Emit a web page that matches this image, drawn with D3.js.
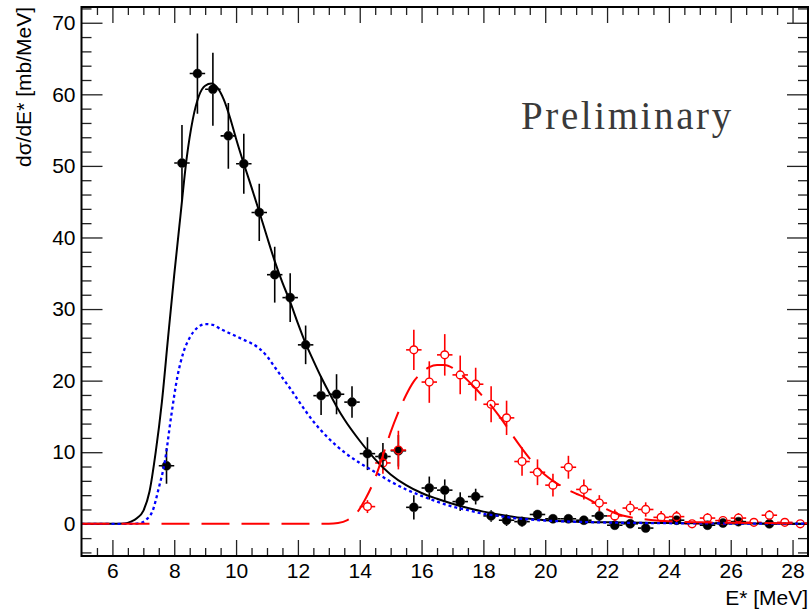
<!DOCTYPE html>
<html>
<head>
<meta charset="utf-8">
<script src="https://cdn.jsdelivr.net/npm/d3@7"></script>
<style>
  body { margin: 0; background: #fff; }
  svg text { font-family: "Liberation Sans", Arial, Helvetica, sans-serif; }
</style>
</head>
<body>
<svg id="chart" width="810" height="612"></svg>
<script>
// ---- measured cross sections: bin centres, values and errors ----
const binHalfWidth = 0.25;

// filled points (dσ/dE*, mb/MeV)
const filledE   = [7.75, 8.25, 8.75, 9.25, 9.75, 10.25, 10.75, 11.25, 11.75, 12.25, 12.75, 13.25, 13.75, 14.25, 14.75, 15.25,
                   15.75, 16.25, 16.75, 17.25, 17.75, 18.25, 18.75, 19.25, 19.75, 20.25, 20.75, 21.25, 21.75, 22.25, 22.75,
                   23.25, 24.25, 25.25, 25.75, 26.25, 27.25];
const filledVal = [8.1, 50.4, 62.9, 60.7, 54.2, 50.3, 43.5, 34.8, 31.6, 25.0, 17.9, 18.1, 17.0, 9.8, 9.4, 10.2,
                   2.3, 5.0, 4.7, 3.1, 3.8, 1.1, 0.5, 0.3, 1.3, 0.7, 0.7, 0.5, 1.1, -0.2, 0.0,
                   -0.6, 0.5, -0.2, 0.1, 0.3, 0.0];
const filledErr = [2.5, 5.3, 5.6, 5.1, 4.6, 4.2, 4.0, 3.9, 3.4, 2.7, 2.7, 2.8, 2.2, 2.3, 1.9, 2.2,
                   1.7, 1.6, 1.5, 1.3, 1.1, 0.8, 0.8, 0.7, 0.5, 0.5, 0.4, 0.4, 0.8, 0.5, 0.4,
                   0.4, 0.4, 0.4, 0.3, 0.4, 0.3];

// open points
const openE   = [14.25, 14.75, 15.25, 15.75, 16.25, 16.75, 17.25, 17.75, 18.25, 18.75, 19.25, 19.75, 20.25, 20.75, 21.25,
                 21.75, 22.25, 22.75, 23.25, 23.75, 24.25, 24.75, 25.25, 25.75, 26.25, 26.75, 27.25, 27.75, 28.25];
const openVal = [2.4, 8.5, 10.3, 24.3, 19.8, 23.6, 20.8, 19.5, 16.7, 14.8, 8.7, 7.2, 5.4, 7.9, 4.8,
                 2.9, 1.1, 2.2, 2.0, 0.9, 1.0, 0.0, 0.8, 0.45, 0.8, 0.2, 1.2, 0.2, 0.0];
const openErr = [0.9, 1.5, 2.7, 2.8, 2.9, 2.9, 2.7, 2.3, 2.5, 2.4, 2.0, 1.8, 1.6, 1.6, 1.4,
                 1.1, 0.9, 1.0, 1.0, 0.9, 0.8, 0.4, 0.7, 0.6, 0.7, 0.5, 0.7, 0.5, 0.4];

// ---- fitted curves, sampled ----
const totalE = [5.0, 6.0, 6.4, 6.6, 6.8, 7.0, 7.2, 7.4, 7.6, 7.8, 8.0, 8.2, 8.4, 8.6, 8.8, 9.0, 9.2, 9.4, 9.6, 9.8,
                10.0, 10.25, 10.5, 10.75, 11.0, 11.25, 11.5, 11.75, 12.0, 12.25, 12.5, 12.75, 13.0, 13.25, 13.5,
                14.0, 14.5, 15.0, 15.5, 16.0, 16.5, 17.0, 17.5, 18.0, 18.5, 19.0, 19.5, 20.0, 21.0, 22.0, 24.0, 26.0, 28.5];
const totalVal = [0, 0, 0.05, 0.3, 0.8, 1.8, 4.5, 10.0, 17.0, 26.0, 34.8, 43.0, 51.0, 56.5, 59.8, 61.2, 61.5, 60.9, 59.3, 56.8,
                  53.8, 50.3, 47.0, 43.6, 40.1, 36.7, 33.7, 31.0, 28.0, 25.2, 22.8, 20.5, 18.4, 16.4, 14.6,
                  11.6, 9.0, 6.9, 5.4, 4.3, 3.5, 2.8, 2.2, 1.7, 1.3, 0.95, 0.7, 0.5, 0.3, 0.2, 0.1, 0.05, 0.02];

const partE = [5.0, 6.6, 6.9, 7.1, 7.3, 7.5, 7.7, 7.9, 8.1, 8.3, 8.5, 8.75, 9.0, 9.25, 9.5, 9.75, 10.0, 10.25, 10.5,
               10.75, 11.0, 11.25, 11.5, 11.75, 12.0, 12.5, 13.0, 13.5, 14.0, 14.5, 15.0, 15.5, 16.0, 16.5, 17.0,
               17.5, 18.0, 18.5, 19.0, 19.5, 20.0, 21.0, 22.0, 24.0, 26.0, 28.5];
const partVal = [0, 0, 0.1, 0.6, 1.8, 5.0, 8.8, 15.0, 20.5, 24.0, 26.0, 27.4, 27.9, 27.8, 27.2, 26.7, 26.2, 25.7, 25.2,
                 24.5, 23.4, 21.9, 20.4, 18.9, 17.3, 14.3, 11.9, 10.0, 8.5, 7.2, 5.9, 4.8, 3.9, 3.1, 2.4,
                 1.9, 1.4, 1.1, 0.8, 0.6, 0.45, 0.28, 0.18, 0.08, 0.04, 0.02];

const highE = [5.0, 13.0, 13.3, 13.6, 13.9, 14.2, 14.5, 14.8, 15.0, 15.25, 15.5, 15.75, 16.0, 16.25, 16.5, 16.75, 17.0,
               17.25, 17.5, 17.75, 18.0, 18.25, 18.5, 18.75, 19.0, 19.25, 19.5, 19.75, 20.0, 20.25, 20.5, 20.75, 21.0,
               21.25, 21.5, 21.75, 22.0, 22.25, 22.5, 23.0, 23.5, 24.0, 25.0, 26.0, 27.0, 28.5];
const highVal = [0, 0, 0.1, 0.5, 1.5, 3.6, 6.4, 10.2, 12.8, 15.6, 18.0, 19.9, 21.1, 21.9, 22.2, 22.2, 21.8,
                 21.0, 20.0, 18.9, 17.7, 16.5, 15.1, 13.6, 12.0, 10.5, 9.1, 7.9, 6.8, 6.0, 5.3, 4.7, 4.2,
                 3.75, 3.2, 2.6, 2.0, 1.5, 1.15, 0.75, 0.5, 0.35, 0.2, 0.13, 0.1, 0.08];

// ---- axis ticks ----
const xMajor = [6, 8, 10, 12, 14, 16, 18, 20, 22, 24, 26, 28];
const xMinor = d3.range(5.5, 28.5, 0.5).filter(v => v % 2 !== 0);
const yMajor = [0, 10, 20, 30, 40, 50, 60, 70];
const yMinor = d3.range(-4, 73, 2).filter(v => v % 10 !== 0);

const xTitle = "E* [MeV]";
const yTitle = "dσ/dE* [mb/MeV]";
const stamp = "Preliminary";

// ---- layout ----
const svg = d3.select("#chart");
const frame = { left: 81.5, right: 808, top: 7, bottom: 556 };

const x = d3.scaleLinear().domain([5, 28.5]).range([frame.left, frame.right]);
const y = d3.scaleLinear().domain([-4.5, 72.2]).range([frame.bottom, frame.top]);

svg.append("defs").append("clipPath").attr("id", "plotArea")
  .append("rect")
  .attr("x", frame.left).attr("y", frame.top)
  .attr("width", frame.right - frame.left).attr("height", frame.bottom - frame.top);

// ---- axes (ticks point inwards on all four sides) ----
function styleAxis(g) {
  g.select(".domain").remove();
  g.selectAll(".tick line").attr("stroke", "#222").attr("stroke-width", 1.3);
  g.selectAll(".tick text").attr("fill", "#000").style("font-size", "21px");
}

svg.append("g").attr("transform", `translate(0,${frame.bottom})`)
  .call(d3.axisBottom(x).tickValues(xMajor).tickSizeInner(-16).tickSizeOuter(0).tickPadding(7).tickFormat(d3.format("d")))
  .call(styleAxis);
svg.append("g").attr("transform", `translate(0,${frame.bottom})`)
  .call(d3.axisBottom(x).tickValues(xMinor).tickSizeInner(-8).tickSizeOuter(0).tickFormat(""))
  .call(styleAxis);
svg.append("g").attr("transform", `translate(0,${frame.top})`)
  .call(d3.axisTop(x).tickValues(xMajor).tickSizeInner(-16).tickSizeOuter(0).tickFormat(""))
  .call(styleAxis);
svg.append("g").attr("transform", `translate(0,${frame.top})`)
  .call(d3.axisTop(x).tickValues(xMinor).tickSizeInner(-8).tickSizeOuter(0).tickFormat(""))
  .call(styleAxis);

svg.append("g").attr("transform", `translate(${frame.left},0)`)
  .call(d3.axisLeft(y).tickValues(yMajor).tickSizeInner(-21).tickSizeOuter(0).tickPadding(6).tickFormat(d3.format("d")))
  .call(styleAxis);
svg.append("g").attr("transform", `translate(${frame.left},0)`)
  .call(d3.axisLeft(y).tickValues(yMinor).tickSizeInner(-10).tickSizeOuter(0).tickFormat(""))
  .call(styleAxis);
svg.append("g").attr("transform", `translate(${frame.right},0)`)
  .call(d3.axisRight(y).tickValues(yMajor).tickSizeInner(-21).tickSizeOuter(0).tickFormat(""))
  .call(styleAxis);
svg.append("g").attr("transform", `translate(${frame.right},0)`)
  .call(d3.axisRight(y).tickValues(yMinor).tickSizeInner(-10).tickSizeOuter(0).tickFormat(""))
  .call(styleAxis);

// ---- data points with error bars ----
const plot = svg.append("g").attr("clip-path", "url(#plotArea)");

function drawPoints(es, vals, errs, color, radius, filled) {
  const pts = es.map((e, i) => ({ e, v: vals[i], err: errs[i] }));
  const g = plot.append("g");
  const segs = [];
  pts.forEach(p => {
    const cx = x(p.e), cy = y(p.v);
    const top = y(p.v + p.err), bot = y(p.v - p.err);
    const lft = x(p.e - binHalfWidth), rgt = x(p.e + binHalfWidth);
    if (cy - radius > top) segs.push([cx, top, cx, cy - radius]);
    if (bot > cy + radius) segs.push([cx, cy + radius, cx, bot]);
    segs.push([lft, cy, cx - radius, cy]);
    segs.push([cx + radius, cy, rgt, cy]);
  });
  g.selectAll("line").data(segs).join("line")
    .attr("x1", d => d[0]).attr("y1", d => d[1]).attr("x2", d => d[2]).attr("y2", d => d[3])
    .attr("stroke", color).attr("stroke-width", 1.6);
  g.selectAll("circle").data(pts).join("circle")
    .attr("cx", d => x(d.e)).attr("cy", d => y(d.v)).attr("r", radius)
    .attr("fill", filled ? color : "none")
    .attr("stroke", color).attr("stroke-width", filled ? 0.5 : 1.4);
}

drawPoints(filledE, filledVal, filledErr, "#000", 4.5, true);
drawPoints(openE, openVal, openErr, "#ff0000", 3.9, false);

// ---- fit curves ----
const line = d3.line().x(d => x(d[0])).y(d => y(d[1])).curve(d3.curveMonotoneX);

plot.append("path").datum(totalE.map((e, i) => [e, totalVal[i]]))
  .attr("d", line).attr("fill", "none").attr("stroke", "#000").attr("stroke-width", 2);
plot.append("path").datum(partE.map((e, i) => [e, partVal[i]]))
  .attr("d", line).attr("fill", "none").attr("stroke", "#0000ff").attr("stroke-width", 2.3)
  .attr("stroke-dasharray", "3,3");
plot.append("path").datum(highE.map((e, i) => [e, highVal[i]]))
  .attr("d", line).attr("fill", "none").attr("stroke", "#ff0000").attr("stroke-width", 2)
  .attr("stroke-dasharray", "28,12");

// ---- frame ----
svg.append("rect")
  .attr("x", frame.left).attr("y", frame.top)
  .attr("width", frame.right - frame.left).attr("height", frame.bottom - frame.top)
  .attr("fill", "none").attr("stroke", "#000").attr("stroke-width", 2);

// ---- titles ----
svg.append("text")
  .attr("x", frame.right).attr("y", 605)
  .attr("text-anchor", "end").style("font-size", "21px")
  .text(xTitle);

svg.append("text")
  .attr("transform", `translate(31,${frame.top}) rotate(-90)`)
  .attr("text-anchor", "end").style("font-size", "21px")
  .text(yTitle);

svg.append("text")
  .attr("x", 521).attr("y", 129)
  .style("font-family", "'Liberation Serif', 'Times New Roman', serif")
  .style("font-size", "39px").style("letter-spacing", "2.6px")
  .attr("fill", "#3a3a3a")
  .text(stamp);
</script>
</body>
</html>
